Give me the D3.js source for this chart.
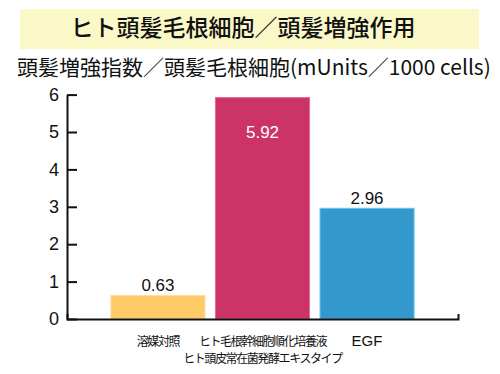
<!DOCTYPE html>
<html>
<head>
<meta charset="utf-8">
<script src="https://cdn.jsdelivr.net/npm/d3@7"></script>
<style>
  body { margin: 0; background: #fff; }
  svg { display: block; }
</style>
</head>
<body>
<div id="chart-area"></div>
<script>
// data
var categories = ["溶媒対照", "ヒト毛根幹細胞順化培養液", "EGF"];
var subLabels = ["", "ヒト頭皮常在菌発酵エキスタイプ", ""];
var values = [0.63, 5.92, 2.96];
var barColors = ["#fecb66", "#cc3366", "#3399cc"];
var barStrokes = ["#fedd99", "#e36b93", "#6cc4ec"];
var yTicks = [0, 1, 2, 3, 4, 5, 6];

var width = 500, height = 374;
var jp = "'Noto Sans CJK JP', 'Noto Sans', sans-serif";
var num = "'Liberation Sans', Arial, sans-serif";

var svg = d3.select("#chart-area")
    .append("svg")
    .attr("width", width)
    .attr("height", height);

// title bar
svg.append("rect")
    .attr("x", 20)
    .attr("y", 9)
    .attr("width", 459)
    .attr("height", 40)
    .attr("fill", "#fbf8c8");
svg.append("text")
    .attr("x", 243)
    .attr("y", 36)
    .attr("text-anchor", "middle")
    .attr("font-family", jp)
    .attr("font-size", "23px")
    .attr("font-weight", "500")
    .attr("fill", "#111")
    .text("ヒト頭髪毛根細胞／頭髪増強作用");

// y axis title
svg.append("text")
    .attr("x", 17)
    .attr("y", 75)
    .attr("font-family", jp)
    .attr("font-size", "21px")
    .attr("fill", "#111")
    .text("頭髪増強指数／頭髪毛根細胞(mUnits／1000 cells)");

// scales
var x = d3.scaleBand()
    .domain(categories)
    .range([67, 458])
    .paddingInner(0.1)
    .paddingOuter(0.42);
var y = d3.scaleLinear()
    .domain([0, 6])
    .range([319, 94.6]);

// bars
svg.selectAll(".bar")
    .data(values)
    .enter().append("rect")
    .attr("class", "bar")
    .attr("x", function(d, i){ return x(categories[i]); })
    .attr("y", function(d){ return y(d); })
    .attr("width", x.bandwidth())
    .attr("height", function(d){ return y(0) - y(d); })
    .attr("fill", function(d, i){ return barColors[i]; })
    .attr("stroke", function(d, i){ return barStrokes[i]; })
    .attr("stroke-width", 1);

// value labels (tall bar gets label inside in white)
svg.selectAll(".val")
    .data(values)
    .enter().append("text")
    .attr("class", "val")
    .attr("x", function(d, i){ return x(categories[i]) + x.bandwidth() / 2; })
    .attr("y", function(d){ return d > 5 ? y(d) + 40 : y(d) - 4; })
    .attr("text-anchor", "middle")
    .attr("font-family", num)
    .attr("font-size", "17px")
    .attr("fill", function(d){ return d > 5 ? "#fff" : "#111"; })
    .text(function(d){ return d3.format(".2f")(d); });

// y axis
var yAxis = svg.append("g")
    .attr("class", "y axis")
    .attr("transform", "translate(67,0)")
    .call(d3.axisLeft(y)
        .tickValues(yTicks)
        .tickFormat(d3.format("d"))
        .tickSizeInner(-10)
        .tickSizeOuter(0)
        .tickPadding(8));
yAxis.selectAll("text")
    .attr("font-family", num)
    .attr("font-size", "18px")
    .attr("fill", "#111");

// x axis
var xAxis = svg.append("g")
    .attr("class", "x axis")
    .attr("transform", "translate(0,319)")
    .call(d3.axisBottom(x)
        .tickSizeInner(0)
        .tickSizeOuter(-5)
        .tickFormat(""));

svg.selectAll(".axis path, .axis line")
    .attr("stroke", "#111")
    .attr("stroke-width", 2);

// category labels
svg.selectAll(".cat")
    .data(categories)
    .enter().append("text")
    .attr("class", "cat")
    .attr("x", function(d){ return x(d) + x.bandwidth() / 2; })
    .attr("y", 346)
    .attr("text-anchor", "middle")
    .attr("font-family", function(d){ return d == "EGF" ? num : jp; })
    .attr("font-size", function(d){ return d == "EGF" ? "15px" : "12px"; })
    .attr("letter-spacing", function(d){ return d == "EGF" ? "0px" : "-1.4px"; })
    .attr("fill", "#111")
    .text(function(d){ return d; });
svg.selectAll(".sub")
    .data(subLabels.filter(function(d){ return d != ""; }))
    .enter().append("text")
    .attr("class", "sub")
    .attr("x", x(categories[1]) + x.bandwidth() / 2)
    .attr("y", 363)
    .attr("text-anchor", "middle")
    .attr("font-family", jp)
    .attr("font-size", "12px")
    .attr("letter-spacing", "-1.4px")
    .attr("fill", "#111")
    .text(function(d){ return d; });
</script>
</body>
</html>
